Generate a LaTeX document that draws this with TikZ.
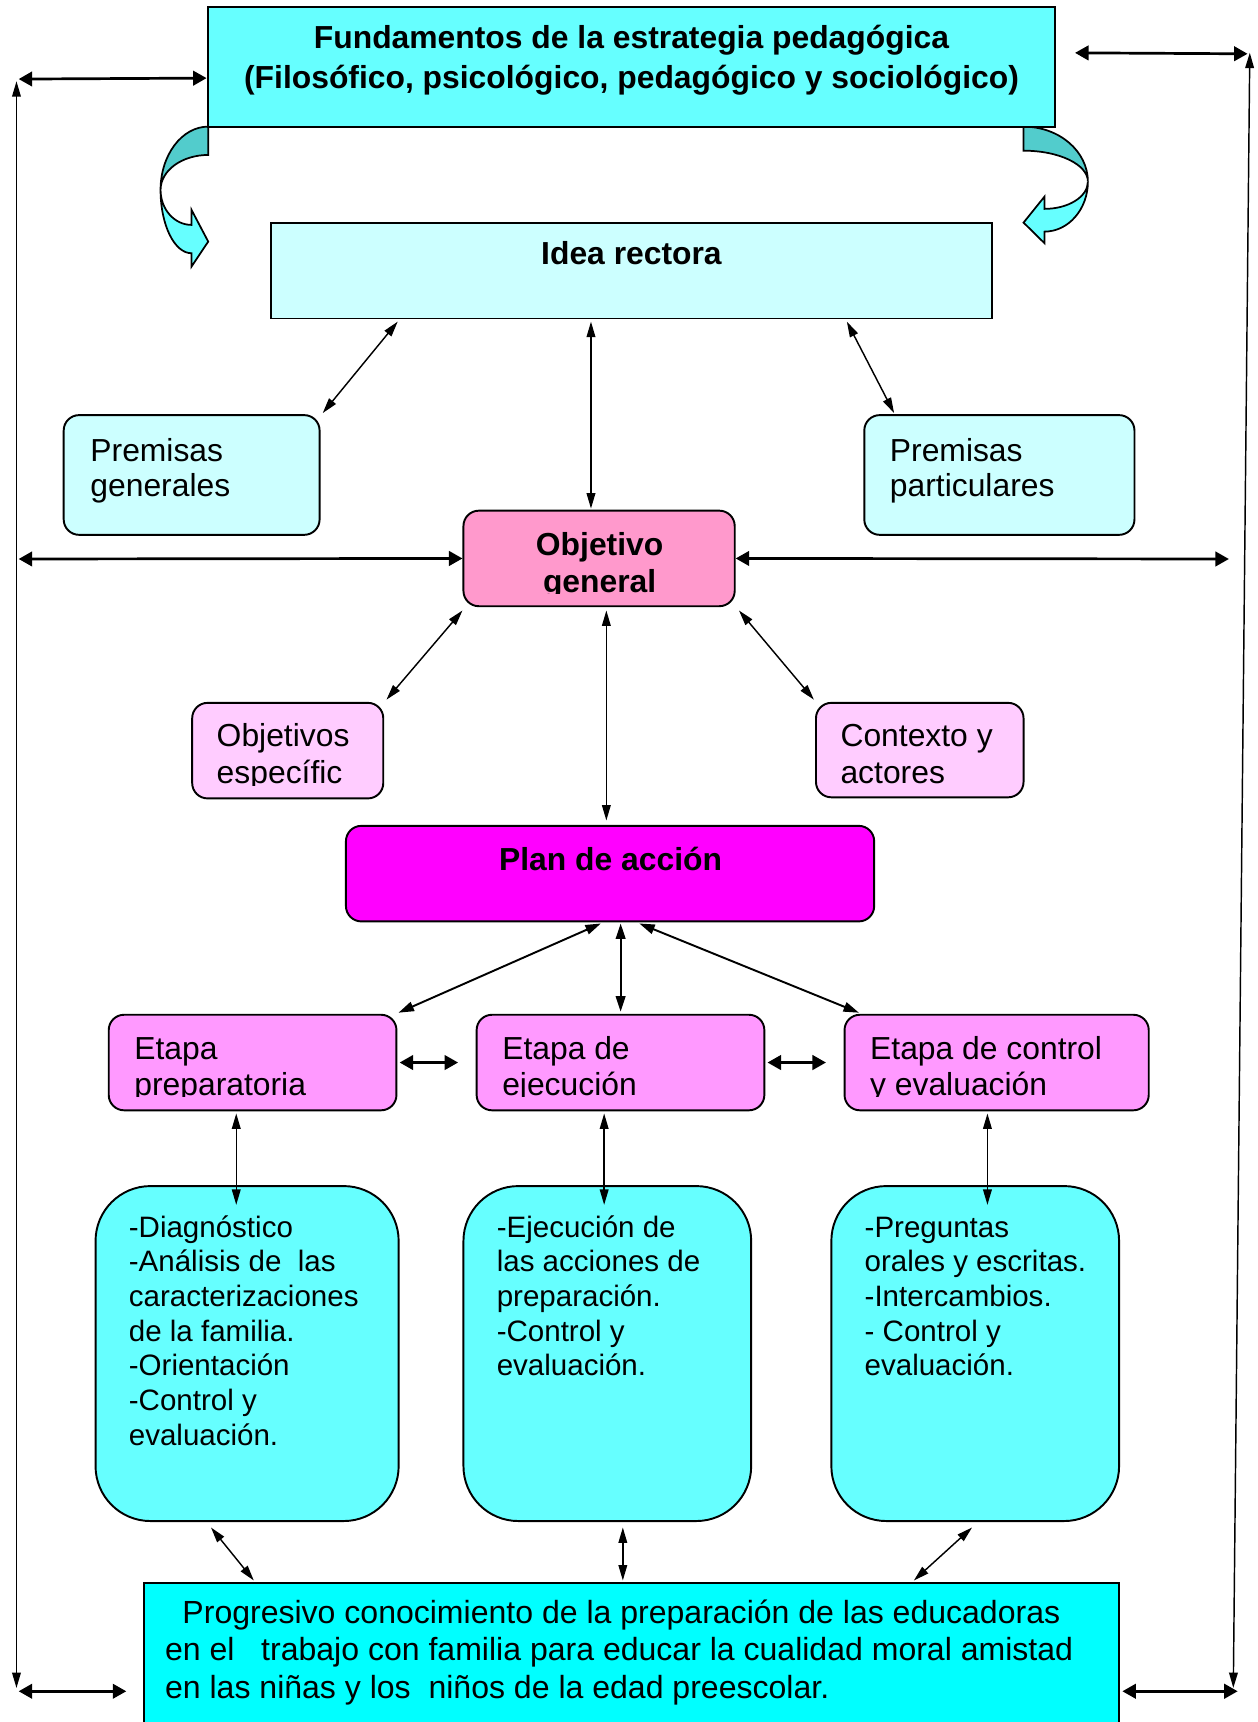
\documentclass[tikz,border=0pt]{standalone}
\usepackage{fontspec}
\setmainfont{Liberation Sans}
\usetikzlibrary{arrows.meta,calc,fit}
\definecolor{cyanA}{HTML}{66FFFF}
\definecolor{cyanB}{HTML}{CCFFFF}
\definecolor{cyanC}{HTML}{00FFFF}
\definecolor{cyanD}{HTML}{52CCCC}
\definecolor{pinkA}{HTML}{FF99CC}
\definecolor{pinkB}{HTML}{FFCCFF}
\definecolor{magA}{HTML}{FF00FF}
\definecolor{pinkC}{HTML}{FF99FF}
\newcommand\tbl[1]{\vtop{\lineskiplimit=-\maxdimen\lineskip=0pt\halign{##\hfil\cr#1\crcr}}}
\newcommand\tbc[1]{\vtop{\lineskiplimit=-\maxdimen\lineskip=0pt\halign{\hfil##\hfil\cr#1\crcr}}}
\newcommand\fs[1]{\fontsize{16.5}{#1}\selectfont}
\newcommand\fss[1]{\fontsize{15.3}{#1}\selectfont}
\begin{document}
\begin{tikzpicture}[x=0.02cm,y=-0.02cm,
  box/.style={draw=black, line width=1pt, inner sep=0pt},
  rbox/.style={box, rounded corners=0.28cm},
  bigbox/.style={box, rounded corners=1cm},
  txt/.style={inner sep=0pt, anchor=base west},
  ctxt/.style={inner sep=0pt, anchor=base},
  tarr/.style={line width=0.75pt, {Triangle[length=8pt,width=4.5pt]}-{Triangle[length=8pt,width=4.5pt]}},
  marr/.style={line width=1pt, {Triangle[length=8pt,width=5pt]}-{Triangle[length=8pt,width=5pt]}},
  karr/.style={line width=1.4pt, {Triangle[length=7pt,width=7.5pt]}-{Triangle[length=7pt,width=7.5pt]}},
  curv/.style={draw=black, line width=0.9pt, line join=miter}
]
\useasboundingbox (0,0) rectangle (1145,1568);

% curved arrows
\filldraw[curv, fill=cyanD] (189.6,115.3) .. controls (165.6,115.3) and (146.2,141.1) .. (146.2,172.9) .. controls (146.2,155.3) and (165.6,141.1) .. (189.6,141.1) -- cycle;
\filldraw[curv, fill=cyanA] (146.2,172.9) .. controls (146.2,204.8) and (158.8,230.6) .. (174.4,230.6) -- (174.4,242.7) -- (189.6,220) -- (174.4,191.1) -- (174.4,204.8) .. controls (158.8,204.8) and (146.2,190.5) .. (146.2,172.9) -- cycle;
\filldraw[curv, fill=cyanD] (932,115.3) .. controls (964.4,115.3) and (990.6,137.7) .. (990.6,165.4) .. controls (990.6,149.8) and (964.4,137.2) .. (932,137.2) -- cycle;
\filldraw[curv, fill=cyanA] (990.6,165.4) .. controls (990.6,190.5) and (972.9,210.9) .. (951.1,210.9) -- (951.1,221.5) -- (932,202.7) -- (951.1,179) -- (951.1,190.2) .. controls (972.9,190.2) and (990.6,179.1) .. (990.6,165.4) -- cycle;

% boxes
\node[box, fill=cyanA, fit={(189,6)(961,116)}] (fund) {};
\node[box, fill=cyanB, fit={(247,203)(903,290)}] (idea) {};
\node[rbox, fill=cyanB, fit={(58,378)(291,487)}] (pg) {};
\node[rbox, fill=cyanB, fit={(787,378)(1033,487)}] (pp) {};
\node[rbox, fill=pinkA, fit={(422,465)(669,552)}] (og) {};
\node[rbox, fill=pinkB, fit={(175,640)(349,727)}] (oe) {};
\node[rbox, fill=pinkB, fit={(743,640)(932,726)}] (ctx) {};
\node[rbox, fill=magA, fit={(315,752)(796,839)}] (plan) {};
\node[rbox, fill=pinkC, fit={(99,924)(361,1011)}] (ep) {};
\node[rbox, fill=pinkC, fit={(434,924)(696,1011)}] (ee) {};
\node[rbox, fill=pinkC, fit={(769,924)(1046,1011)}] (ec) {};
\node[bigbox, fill=cyanA, fit={(87,1080)(363,1385)}] (b1) {};
\node[bigbox, fill=cyanA, fit={(422,1080)(684,1385)}] (b2) {};
\node[bigbox, fill=cyanA, fit={(757,1080)(1019,1385)}] (b3) {};
\node[box, fill=cyanC, fit={(131,1441)(1019,1580)}] (fin) {};

% texts
\node[ctxt, font=\fs{20.6pt}\bfseries] (tfund) at (575,44) {\tbc{Fundamentos de la estrategia pedagógica\cr (Filosófico, psicológico, pedagógico y sociológico)}};
\node[ctxt, font=\fs{18.4pt}\bfseries] (tidea) at (575,241) {Idea rectora};
\node[txt, font=\fs{18.4pt}] (tpg) at (82,420) {\tbl{Premisas\cr generales}};
\node[txt, font=\fs{18.4pt}] (tpp) at (810,420) {\tbl{Premisas\cr particulares}};
\begin{scope}
\clip (422,465) rectangle (669,540.8);
\node[ctxt, font=\fs{18.9pt}\bfseries] (tog) at (546,506) {\tbc{Objetivo\cr general}};
\end{scope}
\begin{scope}
\clip (175,640) rectangle (349,715);
\node[txt, font=\fs{19pt}] (toe) at (197,679.6) {\tbl{Objetivos\cr específic}};
\end{scope}
\begin{scope}
\clip (743,640) rectangle (932,715);
\node[txt, font=\fs{19pt}] (tctx) at (765,679.6) {\tbl{Contexto y\cr actores}};
\end{scope}
\node[ctxt, font=\fs{18.4pt}\bfseries] (tplan) at (556,792.7) {Plan de acción};
\begin{scope}
\clip (99,924) rectangle (1046,998.6);
\node[txt, font=\fs{18.5pt}] (tep) at (122,964.8) {\tbl{Etapa\cr preparatoria}};
\node[txt, font=\fs{18.5pt}] (tee) at (457,964.8) {\tbl{Etapa de\cr ejecución}};
\node[txt, font=\fs{18.5pt}] (tec) at (792,964.8) {\tbl{Etapa de control\cr y evaluación}};
\end{scope}
\node[txt, font=\fss{17.97pt}] (tb1) at (117,1126.4) {\tbl{-Diagnóstico\cr -Análisis de\ \ las\cr caracterizaciones\cr de la familia.\cr -Orientación\cr -Control y\cr evaluación.}};
\node[txt, font=\fss{17.97pt}] (tb2) at (452,1126.4) {\tbl{-Ejecución de\cr las acciones de\cr preparación.\cr -Control y\cr evaluación.}};
\node[txt, font=\fss{17.97pt}] (tb3) at (787,1126.4) {\tbl{-Preguntas\cr orales y escritas.\cr -Intercambios.\cr - Control y\cr evaluación.}};
\node[txt, font=\fontsize{16.6}{19.3pt}\selectfont] (tfin) at (150,1478.5) {\tbl{\hspace*{9pt}Progresivo conocimiento de la preparación de las educadoras\cr en el\ \ \ trabajo con familia para educar la cualidad moral amistad\cr en las niñas y los\ \ niños de la edad preescolar.}};

% connectors
\draw[tarr] ($(idea.south west)+(116,2)$) -- ($(pg.north east)+(2,-1)$);
\draw[tarr] ($(idea.south west)+(292,2)$) -- ($(og.north west)+(117,-1)$);
\draw[tarr] ($(idea.south west)+(525,2)$) -- ($(pp.north west)+(28,-1)$);
\draw[tarr] ($(og.south west)+(0,3)$) -- ($(oe.north east)+(2,-2)$);
\draw[tarr] ($(og.south west)+(131,3)$) -- ($(plan.north west)+(238,-4)$);
\draw[tarr] ($(og.south east)+(3,3)$) -- ($(ctx.north west)+(-1,-2)$);
\draw[marr] ($(plan.south west)+(233,1)$) -- ($(ep.north east)+(1,-1)$);
\draw[marr] ($(plan.south west)+(251,1)$) -- ($(ee.north west)+(132,-2)$);
\draw[marr] ($(plan.south west)+(268,1)$) -- ($(ec.north west)+(14,-1)$);
\draw[karr] ($(ep.east)+(2,0)$) -- ($(ee.west)+(-16,0)$);
\draw[karr] ($(ee.east)+(2,0)$) -- ($(ec.west)+(-16,0)$);
\draw[tarr] ($(ep.south west)+(117,2)$) -- ($(b1.north west)+(129,18)$);
\draw[tarr] ($(ee.south west)+(117,2)$) -- ($(b2.north west)+(129,18)$);
\draw[tarr] ($(ec.south west)+(131,2)$) -- ($(b3.north west)+(143,18)$);
\draw[tarr] ($(b1.south west)+(106,5)$) -- ($(fin.north west)+(101,-1)$);
\draw[tarr] ($(b2.south west)+(146,5)$) -- ($(fin.north west)+(437,-1)$);
\draw[tarr] ($(b3.south west)+(129,5)$) -- ($(fin.north west)+(702,-1)$);

% side connectors
\coordinate (LT) at (15,74);
\coordinate (LB) at (15,1537);
\coordinate (LH1) at (17,72);
\coordinate (LH2) at (17,509);
\coordinate (LH3a) at (17,1540);
\coordinate (LH3b) at (115,1540);
\coordinate (RT) at (1138,48);
\coordinate (RB) at (1123,1537);
\coordinate (RH1) at (1136,49);
\coordinate (RH2) at (1119,509);
\coordinate (RH3a) at (1022,1540);
\coordinate (RH3b) at (1127,1540);
\draw[tarr] (LT) -- (LB);
\draw[tarr] (RT) -- (RB);
\draw[karr] (LH1) -- ($(fund.north west)+(0,66)$);
\draw[karr] (LH2) -- (og.west);
\draw[karr] (LH3a) -- (LH3b);
\draw[karr] ($(fund.north east)+(17,43)$) -- (RH1);
\draw[karr] (og.east) -- (RH2);
\draw[karr] (RH3a) -- (RH3b);
\end{tikzpicture}
\end{document}
